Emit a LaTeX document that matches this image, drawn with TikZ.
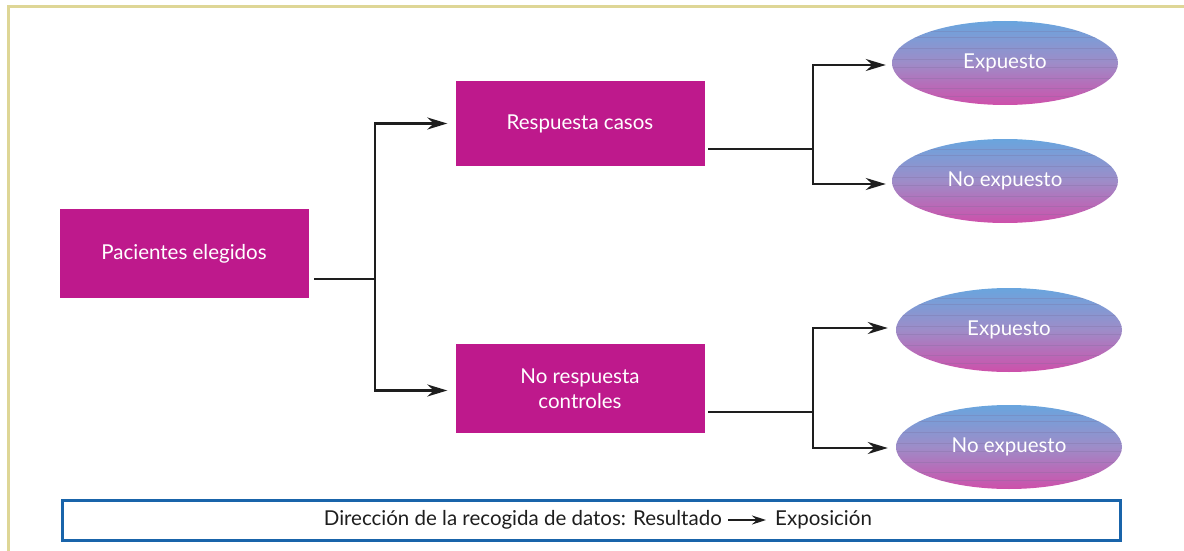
\documentclass[tikz,border=0pt]{standalone}
\usepackage{fontspec}
\setmainfont{Lato}
\usepackage{tikz}
\usetikzlibrary{arrows.meta,positioning,calc,shapes.geometric}

\definecolor{boxmag}{RGB}{190,25,140}
\definecolor{frameb}{RGB}{222,214,150}
\definecolor{noteblue}{RGB}{25,100,170}
\definecolor{ellt}{RGB}{105,165,222}
\definecolor{ellm}{RGB}{158,140,200}
\definecolor{ellb}{RGB}{205,80,170}
\definecolor{ink}{RGB}{30,30,30}

\tikzset{
  stepbox/.style={fill=boxmag, text=white, minimum width=249pt, align=center,
    font=\fontsize{20.5}{25}\selectfont},
  expo/.style={ellipse, minimum width=226pt, minimum height=84pt, inner sep=0pt,
    top color=ellt, bottom color=ellb, middle color=ellm, text=white,
    font=\fontsize{20.5}{25}\selectfont,
    path picture={
      \foreach \f in {0.12,0.2,0.33,0.46,0.55,0.68,0.8,0.9}
        \draw[ellm!75!black, opacity=0.25, line width=0.8pt]
          ($(path picture bounding box.north west)!\f!(path picture bounding box.south west)$)
          -- ++(240,0);
    }},
  conn/.style={draw=ink, line width=2.5pt},
  arr/.style={conn, -{Stealth[length=20pt, width=12pt]}},
}

\begin{document}
\begin{tikzpicture}[x=1pt, y=-1pt]
\useasboundingbox (0,0) rectangle (1184,551);
% frame
\draw[frameb, line width=3pt] (8,551) -- (8,7) -- (1184,7);

\node[stepbox, minimum height=89pt] (pac) at (184,253.5) {Pacientes elegidos};
\node[stepbox, minimum height=85pt] (resp) at (580,123.5) {Respuesta casos};
\node[stepbox, minimum height=89pt] (noresp) at (580,388.5) {No respuesta\\controles};

\node[expo] (exp1) at (1005,63) {Expuesto};
\node[expo] (noexp1) at (1005,181) {No expuesto};
\node[expo] (exp2) at (1009,330) {Expuesto};
\node[expo] (noexp2) at (1009,447) {No expuesto};

\coordinate (pacout) at (314,279);
\coordinate (j1) at (375,279);
\coordinate (respout) at (708,149);
\coordinate (j2) at (813,149);
\coordinate (norespout) at (708,412);
\coordinate (j3) at (813,412);

\draw[conn] (pacout) -- (j1);
\draw[arr] (j1) |- ([xshift=-8pt]resp.west);
\draw[arr] (j1) |- ([xshift=-8pt,yshift=-2pt]noresp.west);

\draw[conn] (respout) -- (j2);
\draw[arr] (j2) |- ([xshift=-6pt,yshift=-2pt]exp1.west);
\draw[arr] (j2) |- ([xshift=-6pt,yshift=-3pt]noexp1.west);

\draw[conn] (norespout) -- (j3);
\draw[arr] (j3) |- ([xshift=-8pt,yshift=2pt]exp2.west);
\draw[arr] (j3) |- ([xshift=-8pt,yshift=-1pt]noexp2.west);

% note
\node[draw=noteblue, line width=3pt, minimum width=1058pt, minimum height=40pt] (note) at (591,520) {};
\node[text=ink, font=\fontsize{20.5}{25}\selectfont, anchor=east, inner sep=0pt] (dir) at (722,520) {Dirección de la recogida de datos: Resultado};
\node[text=ink, font=\fontsize{20.5}{25}\selectfont, anchor=west, inner sep=0pt] (expo) at (775,520) {Exposición};
\draw[draw=ink, line width=1.4pt, -{Stealth[length=14pt, width=9pt]}] ([xshift=6pt]dir.east) -- ([xshift=-9pt]expo.west);
\end{tikzpicture}
\end{document}
